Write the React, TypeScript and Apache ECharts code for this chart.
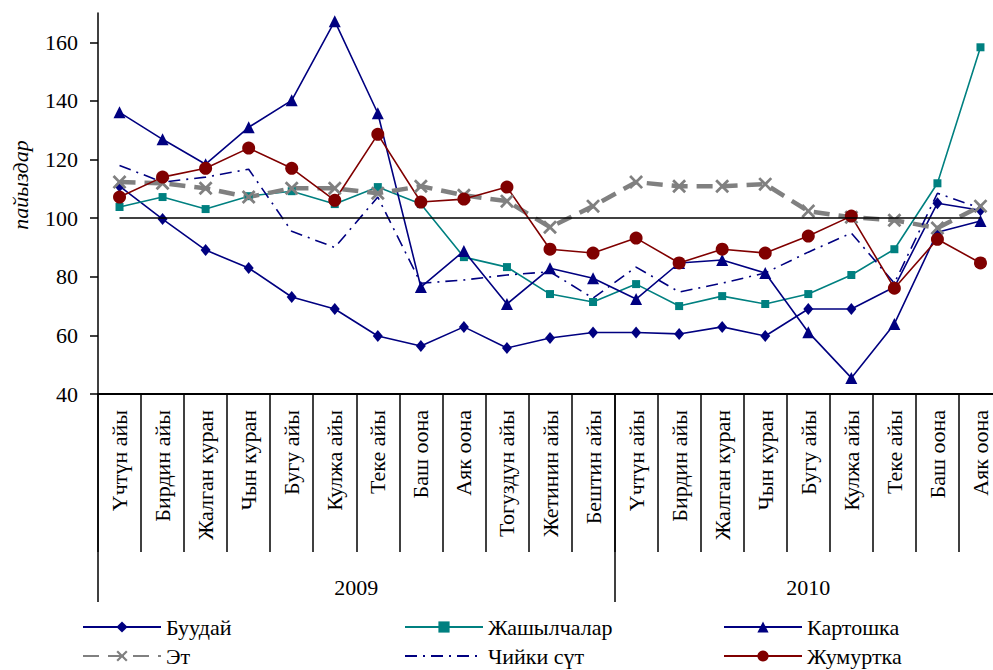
import React, { useEffect, useRef } from 'react';
import * as echarts from 'echarts';

const months = [
  'Үчтүн айы', 'Бирдин айы', 'Жалган куран', 'Чын куран', 'Бугу айы', 'Кулжа айы',
  'Теке айы', 'Баш оона', 'Аяк оона', 'Тогуздун айы', 'Жетинин айы', 'Бештин айы',
  'Үчтүн айы', 'Бирдин айы', 'Жалган куран', 'Чын куран', 'Бугу айы', 'Кулжа айы',
  'Теке айы', 'Баш оона', 'Аяк оона',
];
const years = ['2009', '2010'];
const monthsPerYear = [12, 9];
const yTicks = [40, 60, 80, 100, 120, 140, 160];
const baselineValue = 100;

const buudai = [110.9, 99.7, 89.1, 83.0, 73.1, 69.0, 59.8, 56.4, 62.9, 55.7, 59.1, 61.0, 61.0, 60.5, 62.9, 59.8, 69.0, 69.0, 76.5, 105.1, 102.7];
const jashylchalar = [103.8, 107.2, 103.1, 107.5, 109.2, 104.8, 110.6, 104.8, 86.7, 83.3, 74.1, 71.4, 77.5, 70.0, 73.4, 70.7, 74.1, 80.6, 89.4, 111.9, 158.3];
const kartoshka = [136.1, 126.9, 118.4, 131.0, 140.2, 167.2, 135.8, 76.5, 88.8, 70.7, 82.9, 79.5, 72.4, 84.7, 85.7, 81.3, 61.1, 45.5, 63.9, 95.2, 99.0];
const et = [112.3, 111.9, 110.2, 107.2, 110.2, 110.2, 108.5, 110.9, 107.8, 105.8, 96.9, 104.1, 112.3, 110.9, 110.9, 111.6, 102.4, 100.3, 99.3, 96.6, 104.1];
const chiikiSut = [118.0, 112.3, 114.0, 116.7, 95.5, 90.0, 107.2, 77.8, 78.9, 80.6, 81.7, 72.7, 83.3, 74.8, 77.8, 81.3, 88.4, 94.9, 77.8, 108.5, 103.4];
const jumurtka = [107.2, 114.0, 117.0, 123.9, 117.0, 106.1, 128.6, 105.5, 106.5, 110.6, 89.4, 88.1, 93.2, 84.7, 89.4, 88.1, 93.9, 100.7, 76.1, 92.8, 84.7];

// legend layout: [name, column, row, hasMarker]
const legendColumns = [82, 404, 723];
const legendRows = [616, 645];
const legendLayout: [string, number, number, boolean][] = [
  ['Буудай', 0, 0, true],
  ['Жашылчалар', 1, 0, true],
  ['Картошка', 2, 0, true],
  ['Эт', 0, 1, true],
  ['Чийки сүт', 1, 1, false],
  ['Жумуртка', 2, 1, true],
];

const FONT = '"Liberation Serif", "Times New Roman", serif';
const NAVY = '#000080';
const TEAL = '#008080';
const RED = '#800000';
const GRAY = '#808080';
const X_SYMBOL = 'path://M0,1.4L1.4,0L5,3.6L8.6,0L10,1.4L6.4,5L10,8.6L8.6,10L5,6.4L1.4,10L0,8.6L3.6,5Z';

export default function App() {
  const ref = useRef<HTMLDivElement>(null);

  useEffect(() => {
    if (!ref.current) return;
    const chart = echarts.init(ref.current, undefined, { renderer: 'svg' });

    const bounds: number[] = [0];
    monthsPerYear.forEach((n) => bounds.push(bounds[bounds.length - 1] + n));
    const mids = years.map((_, i) => (bounds[i] + bounds[i + 1]) / 2);
    const total = bounds[bounds.length - 1];

    const legends = legendLayout.map(([name, c, r, marker]) => ({
      orient: 'horizontal',
      left: legendColumns[c],
      top: legendRows[r],
      itemWidth: 78,
      itemHeight: 14,
      padding: 0,
      data: [marker ? name : { name, itemStyle: { opacity: 0 } }],
      textStyle: { fontSize: 22, fontFamily: FONT, color: '#000' },
    }));

    chart.setOption({
      animation: false,
      backgroundColor: '#fff',
      textStyle: { fontFamily: FONT },
      grid: { left: 98, right: 1, top: 13, bottom: 276, containLabel: false },
      legend: legends,
      graphic: [
        {
          type: 'text',
          x: 20,
          y: 185,
          rotation: Math.PI / 2,
          style: {
            text: 'пайыздар',
            fontFamily: FONT,
            fontSize: 22,
            fontStyle: 'italic',
            fill: '#000',
            align: 'center',
            verticalAlign: 'middle',
          },
        },
      ],
      xAxis: [
        {
          type: 'category',
          data: months,
          boundaryGap: true,
          position: 'bottom',
          axisLine: { show: true, lineStyle: { color: '#000', width: 2 } },
          axisTick: { show: true, interval: 0, length: 158, lineStyle: { color: '#000', width: 1.5 } },
          axisLabel: {
            interval: 0,
            rotate: 90,
            margin: 16,
            fontSize: 22,
            fontFamily: FONT,
            color: '#000',
            hideOverlap: false,
          },
          splitLine: { show: false },
        },
        {
          type: 'value',
          min: 0,
          max: total,
          position: 'bottom',
          axisLine: { show: false },
          axisTick: { show: true, customValues: bounds, length: 208, lineStyle: { color: '#000', width: 1.5 } },
          axisLabel: {
            customValues: mids,
            formatter: (v: number) => years[mids.indexOf(v)] ?? '',
            margin: 182,
            fontSize: 22,
            fontFamily: FONT,
            color: '#000',
          },
          splitLine: { show: false },
        },
      ],
      yAxis: {
        type: 'value',
        min: 40,
        max: 170,
        interval: 20,
        axisLine: { show: true, lineStyle: { color: '#000', width: 1.5 } },
        axisTick: { show: true, customValues: yTicks, length: 8, lineStyle: { color: '#000', width: 1.5 } },
        axisLabel: { customValues: yTicks, margin: 20, fontSize: 22, fontFamily: FONT, color: '#000' },
        splitLine: { show: false },
      },
      series: [
        {
          name: 'Буудай',
          type: 'line',
          data: buudai,
          symbol: 'diamond',
          symbolSize: [10, 12],
          color: NAVY,
          lineStyle: { color: NAVY, width: 1.6 },
          itemStyle: { color: NAVY },
          markLine: {
            silent: true,
            symbol: 'none',
            label: { show: false },
            lineStyle: { color: '#000', width: 1.6, type: 'solid' },
            data: [[{ coord: [0, baselineValue] }, { coord: [months.length - 1, baselineValue] }]],
          },
        },
        {
          name: 'Жашылчалар',
          type: 'line',
          data: jashylchalar,
          symbol: 'rect',
          symbolSize: 8,
          color: TEAL,
          lineStyle: { color: TEAL, width: 1.6 },
          itemStyle: { color: TEAL },
        },
        {
          name: 'Картошка',
          type: 'line',
          data: kartoshka,
          symbol: 'triangle',
          symbolSize: 12,
          color: NAVY,
          lineStyle: { color: NAVY, width: 1.6 },
          itemStyle: { color: NAVY },
        },
        {
          name: 'Эт',
          type: 'line',
          data: et,
          symbol: X_SYMBOL,
          symbolSize: 14,
          color: GRAY,
          lineStyle: { color: GRAY, width: 4.5, type: [16, 9] },
          itemStyle: { color: GRAY },
        },
        {
          name: 'Чийки сүт',
          type: 'line',
          data: chiikiSut,
          symbol: 'none',
          showSymbol: false,
          color: NAVY,
          lineStyle: { color: NAVY, width: 1.6, type: [12, 6, 2, 6] },
          itemStyle: { color: NAVY },
        },
        {
          name: 'Жумуртка',
          type: 'line',
          data: jumurtka,
          symbol: 'circle',
          symbolSize: 13,
          color: RED,
          lineStyle: { color: RED, width: 1.6 },
          itemStyle: { color: RED },
        },
      ],
    });

    return () => chart.dispose();
  }, []);

  return (
    <div
      style={{
        position: 'fixed',
        left: 0,
        top: 0,
        width: 993,
        height: 670,
        overflow: 'hidden',
        background: '#fff',
      }}
    >
      <div ref={ref} style={{ width: 1003, height: 670 }} />
    </div>
  );
}
